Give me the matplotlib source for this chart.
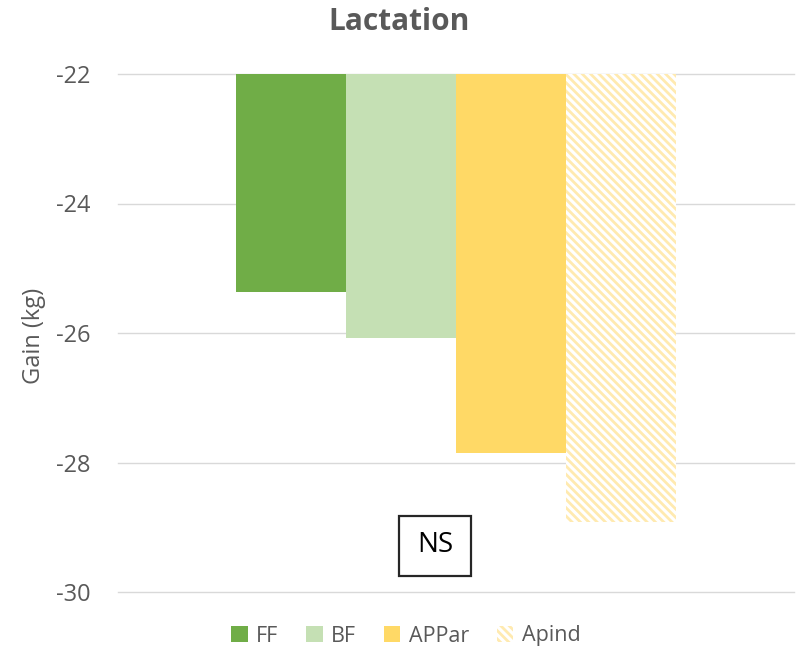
import matplotlib.pyplot as plt
from matplotlib.patches import Rectangle

plt.rcParams['font.family'] = ['Open Sans', 'DejaVu Sans']
plt.rcParams['hatch.linewidth'] = 2.0

# data
series = ['FF', 'BF', 'APPar', 'Apind']
values = [-25.37, -26.07, -27.85, -28.92]
colors = ['#70AD47', '#C5E0B4', '#FFD966', '#FFFFFF']
yticks = [-22, -24, -26, -28, -30]

grey = '#595959'

fig = plt.figure(figsize=(7.98, 6.6), dpi=100)
ax = fig.add_axes([118/798, 1 - 592/660, 676/798, 518/660])

width = 0.1625
base = -22
for i, (name, val, col) in enumerate(zip(series, values, colors)):
    x = (i - 1.5) * width
    if name == 'Apind':
        ax.bar(x, val - base, bottom=base, width=width, facecolor='white',
               edgecolor='#FFEAB0', linewidth=0, hatch='\\\\\\\\', label=name, zorder=3)
    else:
        ax.bar(x, val - base, bottom=base, width=width, color=col,
               linewidth=0, label=name, zorder=3)

ax.set_xlim(-0.5, 0.5)
ax.set_ylim(-30, -22)
ax.set_yticks(yticks)
ax.set_yticklabels([str(t) for t in yticks])
ax.set_xticks([])
ax.yaxis.grid(True, color='#D9D9D9', linewidth=1.0, zorder=0)
for gl in ax.get_ygridlines():
    gl.set_clip_on(False)
ax.set_axisbelow(True)
for s in ax.spines.values():
    s.set_visible(False)
ax.tick_params(axis='y', length=0, pad=20, labelsize=17, labelcolor=grey)
ax.set_ylabel('Gain (kg)', color=grey, fontsize=17)
ax.yaxis.set_label_coords(-0.107, 0.495)

fig.text(0.5, 1 - 22/660, 'Lactation', ha='center', va='center',
         fontsize=21.5, fontweight='bold', color=grey)

# NS annotation box
fig.patches.append(Rectangle((399/798, 1 - 576/660), 72/798, 60/660, transform=fig.transFigure,
                             facecolor='white', edgecolor='#262626', linewidth=1.6, zorder=5))
fig.text(435/798, 1 - 545/660, 'NS', ha='center', va='center', fontsize=20, color='black', zorder=6)

fig.legend(loc='center', bbox_to_anchor=(406/798, 1 - 636/660), ncol=4, frameon=False,
           fontsize=15.5, labelcolor=grey, handlelength=0.75, handleheight=0.75,
           handletextpad=0.4, columnspacing=1.3)

fig.savefig('out.png', dpi=100)
